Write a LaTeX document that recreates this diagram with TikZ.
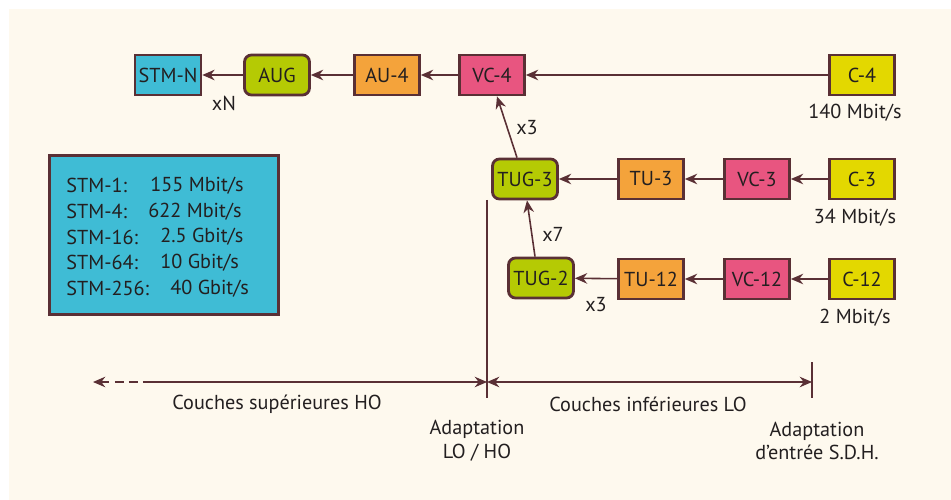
\documentclass[tikz,border=0pt]{standalone}
\usepackage{fontspec}
\setmainfont{PT Sans}
\usetikzlibrary{shapes,arrows.meta,backgrounds,positioning}

\definecolor{fondcreme}{HTML}{FEF9EE}
\definecolor{bordbrun}{HTML}{5A3035}
\definecolor{texte}{HTML}{231F20}
\definecolor{stmbleu}{HTML}{3FBCD5}
\definecolor{augvert}{HTML}{B5CA04}
\definecolor{auorange}{HTML}{F4A33B}
\definecolor{vcrose}{HTML}{E85580}
\definecolor{cjaune}{HTML}{E3D800}

\tikzset{
	bloc/.style = {draw=bordbrun, line width=1.6pt, text=texte,
		minimum width=1.3cm, minimum height=0.8cm, inner sep=2pt},
	stm/.style = {bloc, fill=stmbleu, minimum width=1.22cm},
	groupe/.style = {bloc, fill=augvert, rounded corners=4pt},
	unite/.style = {bloc, fill=auorange},
	conteneurv/.style = {bloc, fill=vcrose},
	conteneur/.style = {bloc, fill=cjaune},
	fleche/.style = {draw=bordbrun, line width=0.9pt, -{Stealth[length=7pt,width=6pt]}},
	trait/.style = {draw=bordbrun, line width=0.9pt},
	etiq/.style = {text=texte, inner sep=0pt}
}

\begin{document}
\begin{tikzpicture}[x=0.02cm, y=-0.02cm, font=\fontsize{11.5}{13.5}\selectfont]
\useasboundingbox (0,0) rectangle (951,500);
\fill[fondcreme] (9,9) rectangle (951,500);

% ligne haute
\node [stm] (stmn) at (168,75) {STM-N};
\node [groupe] (aug) at (277,75) {AUG};
\node [unite] (au4) at (387,75) {AU-4};
\node [conteneurv] (vc4) at (492,75) {VC-4};
\node [conteneur] (c4) at (862,75) {C-4};
% ligne TUG-3
\node [groupe] (tug3) at (525,179) {TUG-3};
\node [unite] (tu3) at (651,179) {TU-3};
\node [conteneurv] (vc3) at (757,179) {VC-3};
\node [conteneur] (c3) at (862,179) {C-3};
% ligne TUG-2
\node [groupe] (tug2) at (541,278) {TUG-2};
\node [unite] (tu12) at (651,279) {TU-12};
\node [conteneurv] (vc12) at (757,279) {VC-12};
\node [conteneur] (c12) at (862,279) {C-12};

\draw [fleche] (c4) -- (vc4);
\draw [fleche] (vc4) -- (au4);
\draw [fleche] (au4) -- (aug);
\draw [fleche] (aug) -- (stmn);
\draw [fleche] (c3) -- (vc3);
\draw [fleche] (vc3) -- (tu3);
\draw [fleche] (tu3) -- (tug3);
\draw [fleche] (c12) -- (vc12);
\draw [fleche] (vc12) -- (tu12);
\draw [fleche] (tu12) -- (tug2);
\draw [fleche] ([xshift=-0.16cm]tug3.north) -- ([xshift=0.1cm]vc4.south);
\draw [fleche] ([xshift=-0.12cm]tug2.north) -- ([xshift=0.04cm]tug3.south);

\node [etiq] (xn) at (224,103) {xN};
\node [etiq] (x3a) at (527,128) {x3};
\node [etiq] (x7) at (553,234) {x7};
\node [etiq] (x3b) at (596,305) {x3};
\node [etiq] (d4) at (855,113) {140 Mbit/s};
\node [etiq] (d3) at (855,218) {34 Mbit/s};
\node [etiq] (d12) at (855,318) {2 Mbit/s};

% debits STM
\node [draw=bordbrun, fill=stmbleu, line width=1.3pt, minimum width=4.58cm,
	minimum height=3.18cm] (debits) at (164,235) {};
\foreach \nom/\val/\xv [count=\i] in {STM-1:/{155 Mbit/s}/150, STM-4:/{622 Mbit/s}/148,
	STM-16:/{2.5 Gbit/s}/160, STM-64:/{10 Gbit/s}/160, STM-256:/{40 Gbit/s}/170}
{
	\node [etiq, anchor=west] (nom\i) at (66,160+25.7*\i) {\nom};
	\node [etiq, anchor=west] (val\i) at (\xv,160+25.7*\i) {\val};
}

% couches
\coordinate (hoend) at (93,382);
\coordinate (hodash) at (143,382);
\coordinate (lohaut) at (487,200);
\coordinate (lobas) at (487,398);
\coordinate (lomid) at (487,382);
\coordinate (sdhhaut) at (812,362);
\coordinate (sdhbas) at (812,398);
\coordinate (sdhmid) at (812,382);
\draw [trait] (lohaut) -- (lobas);
\draw [trait] (sdhhaut) -- (sdhbas);
\draw [trait, dash pattern=on 5pt off 3pt, {Stealth[length=7pt,width=6pt]}-] (hoend) -- (hodash);
\draw [fleche] (hodash) -- (lomid);
\draw [trait, {Stealth[length=7pt,width=6pt]}-{Stealth[length=7pt,width=6pt]}] (lomid) -- (sdhmid);

\node [etiq] (ho) at (277,404) {Couches supérieures HO};
\node [etiq] (lo) at (648,404) {Couches inférieures LO};
\node [etiq, align=center] (adlo) at (477,441) {Adaptation\\LO / HO};
\node [etiq, align=center] (adsdh) at (817,441) {Adaptation\\d’entrée S.D.H.};
\end{tikzpicture}
\end{document}
